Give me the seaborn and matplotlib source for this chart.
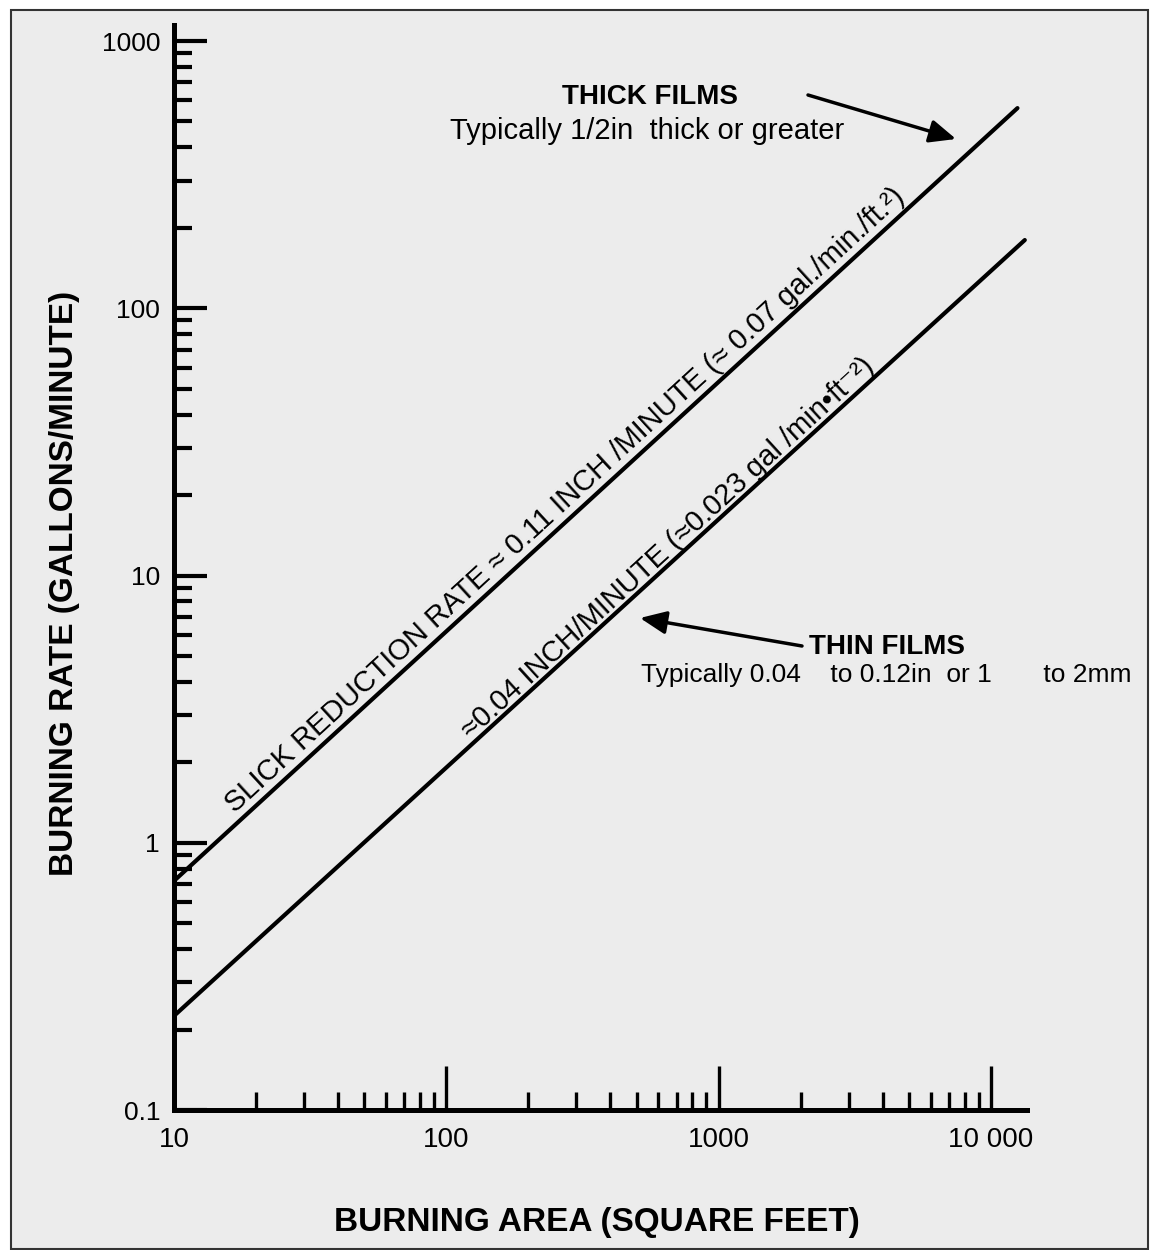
import matplotlib
matplotlib.use("Agg")
import matplotlib.pyplot as plt
import seaborn as sns
from matplotlib.ticker import LogLocator, NullFormatter
from matplotlib.patches import Rectangle, FancyArrowPatch

# line end points (area ft2 -> gal/min)
area_thick = [10, 12500]
rate_thick = [0.72, 561]
area_thin = [10, 13300]
rate_thin = [0.225, 180]

x_ticks = [10, 100, 1000, 10000]
x_labels = ["10", "100", "1000", "10 000"]
y_ticks = [0.1, 1, 10, 100, 1000]
y_labels = ["0.1", "1", "10", "100", "1000"]

sns.set_style("ticks")
plt.rcParams['font.family'] = ['Liberation Sans', 'DejaVu Sans']
plt.rcParams['text.color'] = 'black'
plt.rcParams['xtick.color'] = 'black'
plt.rcParams['ytick.color'] = 'black'
plt.rcParams['xtick.labelcolor'] = 'black'
plt.rcParams['ytick.labelcolor'] = 'black'

W, H = 1156, 1250
fig = plt.figure(figsize=(W / 100, H / 100), dpi=100)
fig.patch.set_facecolor("white")


def fx(px):
    return px / W


def fy(py):
    return 1 - py / H


# scanned page frame with light grey tone
fig.patches.append(Rectangle((fx(11), fy(1249)), fx(1148) - fx(11), fy(10) - fy(1249),
                             transform=fig.transFigure, facecolor="#ececec",
                             edgecolor="#333333", linewidth=1.5, zorder=-5))

ax = fig.add_axes([fx(174), fy(1110), fx(1027) - fx(174), fy(25) - fy(1110)])
ax.set_facecolor("none")
ax.set_xscale("log")
ax.set_yscale("log")

sns.lineplot(x=area_thick, y=rate_thick, ax=ax, color="black", linewidth=3)
sns.lineplot(x=area_thin, y=rate_thin, ax=ax, color="black", linewidth=3)

ax.set_xlim(10, 13550)
ax.set_ylim(0.1, 1148)

ax.set_xticks(x_ticks, x_labels)
ax.set_yticks(y_ticks, y_labels)
ax.xaxis.set_minor_locator(LogLocator(base=10, subs=range(2, 10)))
ax.yaxis.set_minor_locator(LogLocator(base=10, subs=range(2, 10)))
ax.xaxis.set_minor_formatter(NullFormatter())
ax.yaxis.set_minor_formatter(NullFormatter())

ax.tick_params(axis="x", which="major", direction="in", length=32, width=2.4,
               labelsize=20, pad=12)
ax.tick_params(axis="x", which="minor", direction="in", length=13, width=2.4)
ax.tick_params(axis="y", which="major", direction="in", length=24, width=3,
               labelsize=19, pad=10)
ax.tick_params(axis="y", which="minor", direction="in", length=13, width=3)

for side in ["top", "right"]:
    ax.spines[side].set_visible(False)
for side in ["left", "bottom"]:
    ax.spines[side].set_linewidth(3.6)
    ax.spines[side].set_color("black")

# axis titles
fig.text(fx(597), fy(1222), "BURNING AREA (SQUARE FEET)", ha="center", va="center",
         fontsize=24, fontweight="bold")
fig.text(fx(65), fy(583), "BURNING RATE (GALLONS/MINUTE)", ha="center", va="center",
         rotation=90, fontsize=24, fontweight="bold")

# labels along the lines
fig.text(fx(565), fy(500), "SLICK REDUCTION RATE \u2248 0.11 INCH /MINUTE (\u2248 0.07 gal./min./ft.\u00b2)",
         ha="center", va="center", rotation=42.5, rotation_mode="anchor", fontsize=21)
fig.text(fx(668), fy(548), "\u22480.04 INCH/MINUTE (\u22480.023 gal /min\u2022ft\u207b\u00b2)",
         ha="center", va="center", rotation=42.5, rotation_mode="anchor", fontsize=21)

# film annotations
fig.text(fx(650), fy(97), "THICK FILMS", ha="center", va="center", fontsize=20, fontweight="bold")
fig.text(fx(647), fy(131), "Typically 1/2in  thick or greater", ha="center", va="center", fontsize=21)
fig.text(fx(887), fy(647), "THIN FILMS", ha="center", va="center", fontsize=20, fontweight="bold")
fig.text(fx(886), fy(675), "Typically 0.04    to 0.12in  or 1       to 2mm",
         ha="center", va="center", fontsize=19)

arrow = dict(arrowstyle="-|>,head_length=0.8,head_width=0.35", color="black", linewidth=2.5,
             shrinkA=0, shrinkB=0, mutation_scale=20)
fig.add_artist(FancyArrowPatch((fx(808), fy(95)), (fx(956), fy(139)),
                               transform=fig.transFigure, **arrow))
fig.add_artist(FancyArrowPatch((fx(802), fy(646)), (fx(640), fy(618)),
                               transform=fig.transFigure, **arrow))

fig.savefig("out.png", dpi=100)
